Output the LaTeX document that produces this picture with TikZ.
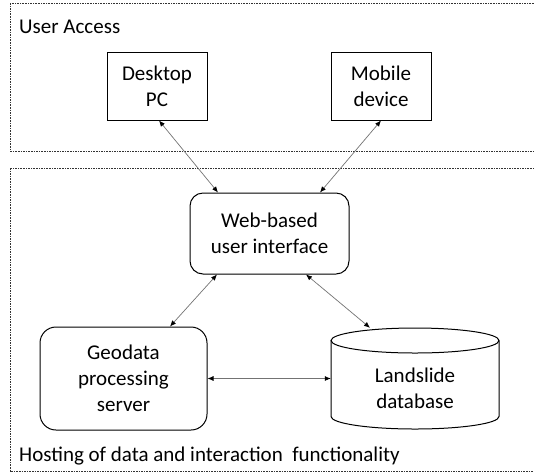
\documentclass[tikz,border=0pt]{standalone}
\usepackage{fontspec}
\setmainfont{Carlito}
\usetikzlibrary{arrows.meta}
\begin{document}
\begin{tikzpicture}[x=1pt,y=-1pt,
  zone/.style={draw=black!80, line width=0.8pt, dash pattern=on 1.6pt off 1pt},
  plainbox/.style={draw=black, line width=1pt, fill=white, align=center, font=\fontsize{21}{26}\selectfont, inner sep=0pt},
  roundbox/.style={plainbox, rounded corners=13pt},
  link/.style={draw=black!55, line width=0.7pt, {Latex[length=6pt,width=5pt,color=black]}-{Latex[length=6pt,width=5pt,color=black]}},
  zonelabel/.style={anchor=west, font=\fontsize{21}{25}\selectfont, inner sep=0pt}
]
\useasboundingbox (0,0) rectangle (534,472);
\clip (0,0) rectangle (534,472);
% zones
\draw[zone] (10,3) rectangle (545,151);
\draw[zone] (10,168) rectangle (545,471);
\node[zonelabel] (ua) at (19,27) {User Access};
\node[zonelabel] (host) at (19,456) {Hosting of data and interaction\ \ functionality};
% nodes
\node[plainbox, minimum width=100pt, minimum height=68pt] (pc) at (157,86) {Desktop\\PC};
\node[plainbox, minimum width=100pt, minimum height=68pt] (mob) at (381,86) {Mobile\\device};
\node[roundbox, minimum width=159pt, minimum height=81pt] (web) at (269.5,233.5) {Web-based\\user interface};
\node[roundbox, rounded corners=16pt, minimum width=167pt, minimum height=103pt] (geo) at (123.5,378.5) {Geodata\\processing\\server};
% database cylinder
\node[minimum width=168pt, minimum height=101pt, inner sep=0pt] (db) at (415,378.5) {};
\draw[line width=1pt, fill=white] (331,340.5) -- (331,416.5) arc[start angle=180, end angle=0, x radius=84, y radius=12.5] -- (499,340.5);
\draw[line width=1pt, fill=white] (415,340.5) ellipse[x radius=84, y radius=12.5];
\node[align=center, font=\fontsize{21}{26}\selectfont, inner sep=0pt] (dbtext) at (415,388) {Landslide\\database};
% connectors
\draw[link] ([xshift=-51.5pt]web.north) -- ([xshift=2pt]pc.south);
\draw[link] ([xshift=50.5pt]web.north) -- (mob.south);
\draw[link] ([xshift=-52.5pt]web.south) -- ([xshift=46.5pt]geo.north);
\draw[link] ([xshift=36.5pt]web.south) -- ([xshift=-45pt]db.north);
\draw[link] (geo.east) -- (db.west);
\end{tikzpicture}
\end{document}
